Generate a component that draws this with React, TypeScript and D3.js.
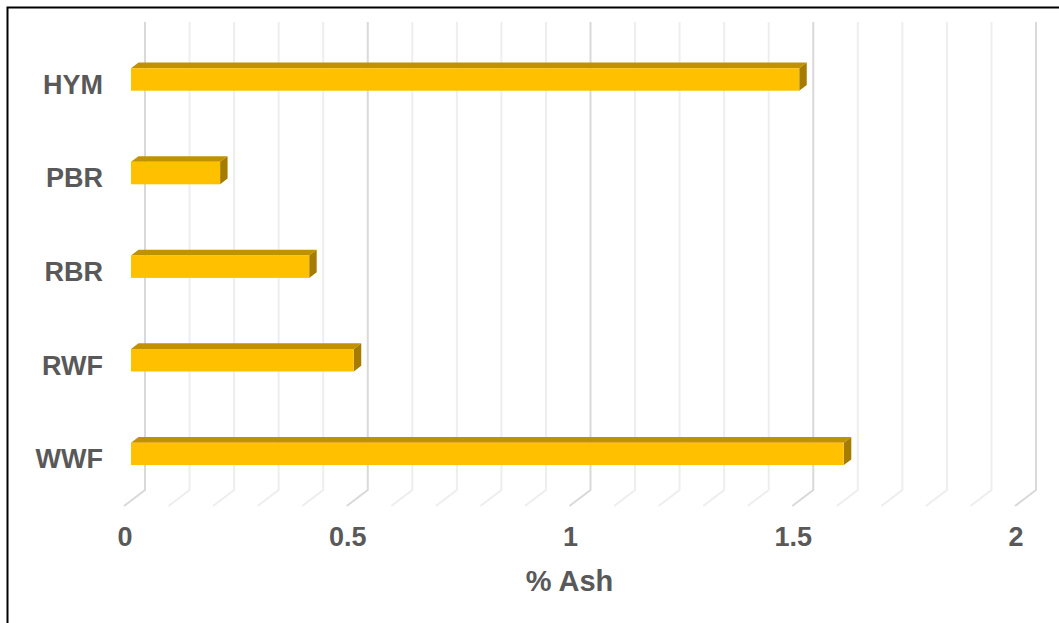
import React from "react";
import * as d3 from "d3";

// Ash content per flour sample
const categories = ["HYM", "PBR", "RBR", "RWF", "WWF"];
const ashValues = [1.5, 0.2, 0.4, 0.5, 1.6];
const majorTicks = [0, 0.5, 1, 1.5, 2];
const axisTitle = "% Ash";

const W = 1059;
const H = 623;

// back wall of the 3D plot area
const wallLeft = 145;
const wallRight = 1036;
const wallTop = 22;
const wallBottom = 490;
// full depth of the floor (back plane -> front plane)
const depthDX = -21;
const depthDY = 16;
// bars sit in the middle third of the depth
const barBack = 0.31;
const barFront = 2 / 3;

const textColor = "#595959";
const font = "'Liberation Sans', Arial, sans-serif";

function proj(x: number, y: number, d: number): [number, number] {
  return [x + depthDX * d, y + depthDY * d];
}

export default function App() {
  const x = d3.scaleLinear().domain([0, 2]).range([wallLeft, wallRight]);
  const y = d3
    .scaleBand<string>()
    .domain(categories)
    .range([wallTop, wallBottom])
    .paddingInner(0.76)
    .paddingOuter(0.38);

  const gridValues = d3.range(0, 21).map((i) => i / 10);
  const isMajor = (v: number) => Math.abs(v * 2 - Math.round(v * 2)) < 1e-6;

  const bars = categories.map((c, i) => {
    const v = ashValues[i];
    const yTop = y(c)!;
    const yBot = yTop + y.bandwidth();
    const [fx0, fyT] = proj(x(0), yTop, barFront);
    const [fxV] = proj(x(v), yTop, barFront);
    const [, fyB] = proj(x(0), yBot, barFront);
    const bdx = depthDX * (barBack - barFront);
    const bdy = depthDY * (barBack - barFront);
    const top = [
      [fx0, fyT],
      [fxV, fyT],
      [fxV + bdx, fyT + bdy],
      [fx0 + bdx, fyT + bdy],
    ];
    const side = [
      [fxV, fyT],
      [fxV + bdx, fyT + bdy],
      [fxV + bdx, fyB + bdy],
      [fxV, fyB],
    ];
    return { c, fx0, fxV, fyT, fyB, top, side };
  });

  const line = d3.line();

  return (
    <svg
      width={W}
      height={H}
      style={{ position: "fixed", left: 0, top: 0, background: "#fff" }}
    >
      <rect x={0} y={0} width={W} height={H} fill="#fff" />
      {/* chart frame (right and bottom edges fall outside the view) */}
      <rect
        x={7.5}
        y={7.5}
        width={W + 20}
        height={H + 20}
        fill="none"
        stroke="#000"
        strokeWidth={2}
      />

      {/* back-wall gridlines and floor depth lines */}
      <g fill="none" strokeWidth={2}>
        {gridValues.map((v) => {
          const xb = x(v);
          const [xf, yf] = proj(xb, wallBottom, 1);
          const col = isMajor(v) ? "#D9D9D9" : "#EEEEEE";
          return (
            <path
              key={v}
              stroke={col}
              d={line([
                [xb, wallTop],
                [xb, wallBottom],
                [xf, yf],
              ])!}
            />
          );
        })}
      </g>

      {/* 3D bars */}
      {bars.map((b) => (
        <g key={b.c}>
          <path d={line(b.top as [number, number][]) + "Z"} fill="#C29100" />
          <path d={line(b.side as [number, number][]) + "Z"} fill="#A57C00" />
          <rect
            x={b.fx0}
            y={b.fyT}
            width={b.fxV - b.fx0}
            height={b.fyB - b.fyT}
            fill="#FFC000"
          />
        </g>
      ))}

      {/* category labels */}
      <g
        fontFamily={font}
        fontWeight="bold"
        fontSize={27}
        fill={textColor}
        textAnchor="end"
      >
        {categories.map((c) => {
          const [xf, yf] = proj(x(0), y(c)! + y.bandwidth() / 2, 1);
          return (
            <text key={c} x={xf - 21} y={yf} dy="0.33em">
              {c}
            </text>
          );
        })}
      </g>

      {/* value axis tick labels */}
      <g
        fontFamily={font}
        fontWeight="bold"
        fill={textColor}
        textAnchor="middle"
      >
        {majorTicks.map((t) => {
          const [xf, yf] = proj(x(t), wallBottom, 1);
          return (
            <text key={t} x={xf + 1} y={yf + 40} fontSize={27}>
              {String(t)}
            </text>
          );
        })}
        <text
          x={(proj(x(0), wallBottom, 1)[0] + proj(x(2), wallBottom, 1)[0]) / 2}
          y={591}
          fontSize={29}
        >
          {axisTitle}
        </text>
      </g>
    </svg>
  );
}
